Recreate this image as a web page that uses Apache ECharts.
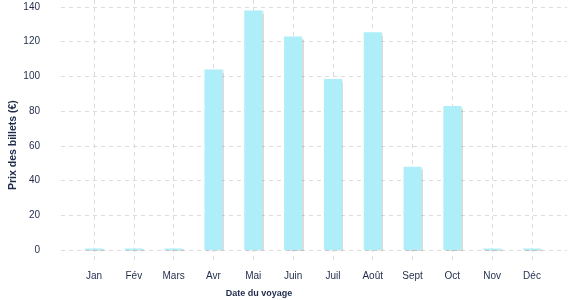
<!DOCTYPE html>
<html>
<head>
<meta charset="utf-8">
<script src="https://cdn.jsdelivr.net/npm/echarts@6/dist/echarts.min.js"></script>
<style>
html,body{margin:0;padding:0;background:#fff;}
#chart{width:577px;height:300px;}
</style>
</head>
<body>
<div id="chart"></div>
<script>
const categories = ['Jan','Fév','Mars','Avr','Mai','Juin','Juil','Août','Sept','Oct','Nov','Déc'];
const prices = [0, 0, 0, 104, 138, 123, 98.5, 125.5, 48, 83, 0, 0];
const yTicks = [0, 20, 40, 60, 80, 100, 120, 140];
const xTitle = 'Date du voyage';
const yTitle = 'Prix des billets (€)';

const textColor = '#1f2b4a';
const gridColor = '#dcdcdc';
const fontFam = '"Liberation Sans", Arial, sans-serif';

const chart = echarts.init(document.getElementById('chart'), null, {renderer: 'canvas'});
chart.setOption({
  animation: false,
  grid: [
    {left: 61, right: 10, top: 7, bottom: 50},
    {left: 94, right: 45, top: 0, bottom: 38}
  ],
  xAxis: [
    {type: 'value', gridIndex: 0, min: -0.829, max: 11.879,
     axisLine: {show: false}, axisTick: {show: false}, axisLabel: {show: false}, splitLine: {show: false}},
    {type: 'value', gridIndex: 1, min: 0, max: categories.length - 1, interval: 1,
     axisLine: {show: false}, axisTick: {show: false},
     axisLabel: {margin: 9, color: textColor, fontSize: 10, fontFamily: fontFam,
       formatter: v => categories[Math.round(v)] || ''},
     splitLine: {show: true, lineStyle: {color: gridColor, type: [4, 4], width: 1}}}
  ],
  yAxis: [
    {type: 'value', gridIndex: 0, min: yTicks[0], max: yTicks[yTicks.length - 1], interval: 20,
     axisLine: {show: false}, axisTick: {show: false},
     axisLabel: {margin: 21, color: textColor, fontSize: 10, fontFamily: fontFam},
     splitLine: {show: true, lineStyle: {color: gridColor, type: [4, 4], width: 1}}},
    {type: 'value', gridIndex: 1, min: 0, max: 1,
     axisLine: {show: false}, axisTick: {show: false}, axisLabel: {show: false}, splitLine: {show: false}}
  ],
  series: [{
    type: 'bar',
    xAxisIndex: 0, yAxisIndex: 0,
    barWidth: 18,
    barMinHeight: 1.5,
    data: prices.map((v, i) => [i, v]),
    itemStyle: {color: '#adeef8', shadowColor: 'rgba(0,0,0,0.14)', shadowBlur: 1, shadowOffsetX: 1.5, shadowOffsetY: 1}
  }],
  graphic: [
    {type: 'text', x: 259, y: 294,
     style: {text: xTitle, fill: textColor, font: 'bold 9px ' + fontFam, textAlign: 'center', textVerticalAlign: 'middle'}},
    {type: 'text', x: 8, y: 190, rotation: Math.PI / 2,
     style: {text: yTitle, fill: textColor, font: 'bold 10.5px ' + fontFam, textAlign: 'left', textVerticalAlign: 'top'}}
  ]
});
</script>
</body>
</html>
